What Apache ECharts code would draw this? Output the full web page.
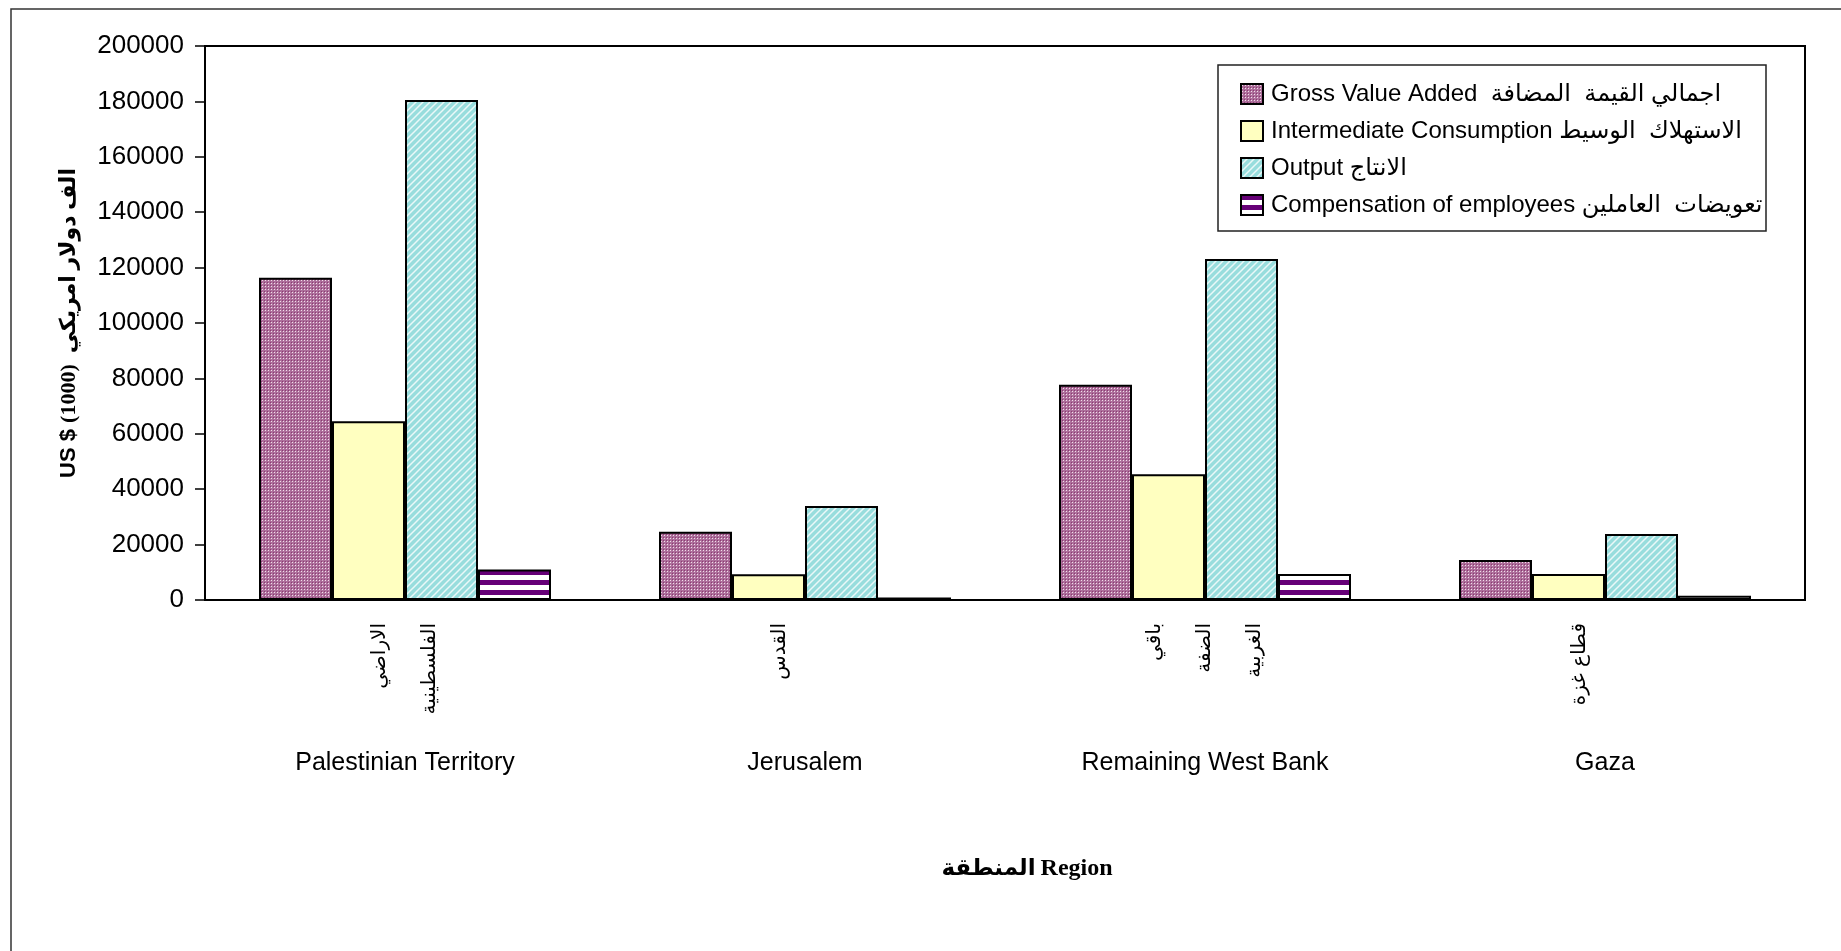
<!DOCTYPE html>
<html>
<head>
<meta charset="utf-8">
<script src="https://cdn.jsdelivr.net/npm/echarts@6/dist/echarts.min.js"></script>
<style>
html,body{margin:0;padding:0;background:#fff;}
#chart{width:1841px;height:951px;}
</style>
</head>
<body>
<div id="chart"></div>
<script>
// ---- data ----
const categoriesEn = ['Palestinian Territory', 'Jerusalem', 'Remaining West Bank', 'Gaza'];
const categoriesAr = ['الاراضي\nالفلسطينية', 'القدس', 'باقي\nالضفة\nالغربية', 'قطاع غزة'];
const seriesNames = [
  'Gross Value Added  اجمالي القيمة  المضافة',
  'Intermediate Consumption الاستهلاك  الوسيط',
  'Output الانتاج',
  'Compensation of employees تعويضات  العاملين'
];
const grossValueAdded = [116300, 24600, 77700, 14400];
const intermediateConsumption = [64500, 9300, 45400, 9400];
const output = [180500, 33900, 123100, 23800];
const compensation = [11000, 900, 9400, 1500];
const yTicks = { min: 0, max: 200000, interval: 20000 };
const yAxisName = ['US $ ', '(1000)  الف دولار امريكي'];
const xAxisName = ['المنطقة', 'Region'];

// ---- patterns ----
function makeTile(w, h, draw) {
  const c = document.createElement('canvas');
  c.width = w; c.height = h;
  draw(c.getContext('2d'));
  return { image: c, repeat: 'repeat' };
}
const gvaPattern = makeTile(3, 3, g => {
  g.fillStyle = '#ad6f9b'; g.fillRect(0, 0, 3, 3);
  g.fillStyle = '#8c3a72'; g.fillRect(0, 0, 1, 1);
  g.fillStyle = '#f2dcea'; g.fillRect(1, 1, 1, 1);
});
const outPattern = makeTile(7, 7, g => {
  g.fillStyle = '#98dddd'; g.fillRect(0, 0, 7, 7);
  g.strokeStyle = 'rgba(255,255,255,0.8)'; g.lineWidth = 1.5;
  g.beginPath();
  g.moveTo(-1, 8); g.lineTo(8, -1);
  g.moveTo(-1, 1); g.lineTo(1, -1);
  g.moveTo(6, 8); g.lineTo(8, 6);
  g.stroke();
});
const coePattern = makeTile(4, 10, g => {
  g.fillStyle = '#ffffff'; g.fillRect(0, 0, 4, 10);
  g.fillStyle = '#660077'; g.fillRect(0, 0, 4, 5);
});

const SANS = "'Liberation Sans', Arial, 'DejaVu Sans', sans-serif";
const SERIF = "'Liberation Serif', 'Times New Roman', 'DejaVu Sans', serif";

const chart = echarts.init(document.getElementById('chart'), null, { renderer: 'canvas' });

function barSeries(name, data, color) {
  return {
    name: name, type: 'bar', data: data,
    barGap: '0%', barCategoryGap: '27%',
    itemStyle: { color: color, borderColor: '#000', borderWidth: 2 },
    emphasis: { disabled: true }
  };
}

chart.setOption({
  animation: false,
  backgroundColor: '#fff',
  grid: { left: 205, right: 36, top: 46, bottom: 351, show: true, borderColor: '#000', borderWidth: 2, backgroundColor: 'transparent' },
  legend: {
    orient: 'vertical', left: 1240, top: 82, padding: 0,
    itemWidth: 22, itemHeight: 20, itemGap: 13, icon: 'rect',
    itemStyle: { borderColor: '#000', borderWidth: 2 },
    textStyle: { fontSize: 24, fontFamily: SANS, color: '#000', lineHeight: 20, padding: [0, 0, 0, 3] },
    data: seriesNames
  },
  xAxis: [
    {
      type: 'category', data: categoriesAr, position: 'bottom',
      axisLine: { show: true, lineStyle: { color: '#000', width: 2 } },
      axisTick: { show: false },
      axisLabel: {
        rotate: 90, margin: 23, interval: 0, fontSize: 20, lineHeight: 50,
        fontFamily: "'DejaVu Sans', sans-serif", color: '#000',
        formatter: v => v.indexOf('\n') < 0 ? v + '\n ' : v
      }
    },
    {
      type: 'category', data: categoriesEn, position: 'bottom', gridIndex: 0,
      axisLine: { show: false }, axisTick: { show: false },
      axisLabel: { margin: 151, interval: 0, fontSize: 25, fontFamily: SANS, color: '#000' }
    }
  ],
  yAxis: {
    type: 'value', min: yTicks.min, max: yTicks.max, interval: yTicks.interval,
    axisLine: { show: true, lineStyle: { color: '#000', width: 2 } },
    axisTick: { show: true, length: 10, lineStyle: { color: '#000', width: 1.5 } },
    splitLine: { show: false },
    axisLabel: { fontSize: 26, fontFamily: SANS, color: '#000', margin: 21, formatter: v => String(v) },
    name: '{a|' + yAxisName[0] + '}{b|' + yAxisName[1] + '}',
    nameLocation: 'middle', nameGap: 125, nameRotate: 90,
    nameTextStyle: {
      rich: {
        a: { fontSize: 22, fontWeight: 'bold', fontFamily: SANS, color: '#000' },
        b: { fontSize: 22, fontWeight: 'bold', fontFamily: SERIF, color: '#000' }
      }
    }
  },
  title: {
    text: '{ar|' + xAxisName[0] + '} {en|' + xAxisName[1] + '}', left: 1022, top: 852, textAlign: 'center',
    textStyle: {
      rich: {
        ar: { fontSize: 23, fontWeight: 'bold', fontFamily: SERIF, color: '#000' },
        en: { fontSize: 24, fontWeight: 'bold', fontFamily: SERIF, color: '#000' }
      }
    }
  },
  graphic: [
    { type: 'rect', shape: { x: 11, y: 9, width: 1900, height: 1000 }, style: { fill: 'none', stroke: '#333', lineWidth: 1.5 }, silent: true },
    { type: 'rect', shape: { x: 1218, y: 65, width: 548, height: 166 }, style: { fill: 'none', stroke: '#222', lineWidth: 1.5 }, silent: true, z: 10 }
  ],
  series: [
    barSeries(seriesNames[0], grossValueAdded, gvaPattern),
    barSeries(seriesNames[1], intermediateConsumption, '#ffffc0'),
    barSeries(seriesNames[2], output, outPattern),
    barSeries(seriesNames[3], compensation, coePattern)
  ]
});
</script>
</body>
</html>
